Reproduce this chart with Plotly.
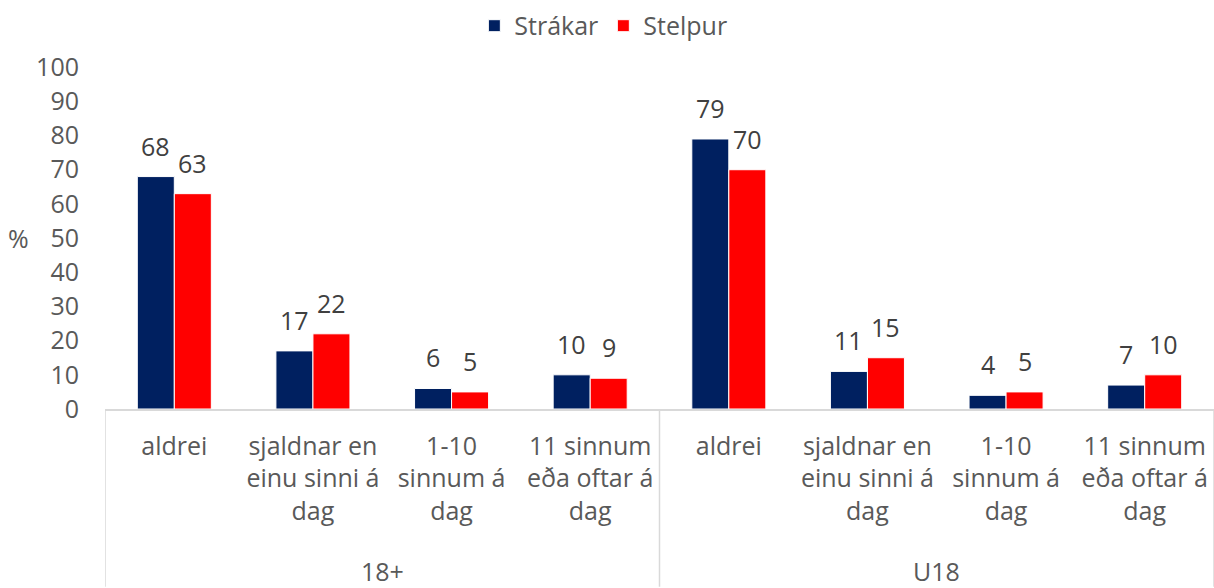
import plotly.graph_objects as go

# Data
groups = ["18+", "U18"]
categories = ["aldrei", "sjaldnar en einu sinni á dag", "1-10 sinnum á dag", "11 sinnum eða oftar á dag"]
tick_labels = ["aldrei", "sjaldnar en<br>einu sinni á<br>dag", "1-10<br>sinnum á<br>dag", "11 sinnum<br>eða oftar á<br>dag"]
strakar = [68, 17, 6, 10, 79, 11, 4, 7]
stelpur = [63, 22, 5, 9, 70, 15, 5, 10]
y_ticks = list(range(0, 101, 10))

n_cat = len(categories)
positions = list(range(len(groups) * n_cat))
ticktext = tick_labels * len(groups)

FONT = "Open Sans"
GREY = "#595959"
LABEL = "#404040"
LINE = "#d9d9d9"
BARGAP = 0.466

fig = go.Figure()
fig.add_trace(go.Bar(
    x=positions, y=strakar, name="Strákar",
    marker=dict(color="#002060", line=dict(color="white", width=1)),
))
fig.add_trace(go.Bar(
    x=positions, y=stelpur, name="Stelpur",
    marker=dict(color="#FF0000", line=dict(color="white", width=1)),
))

# data labels above bars
half = (1 - BARGAP) / 4
for series, off in ((strakar, -half), (stelpur, half)):
    for xp, v in zip(positions, series):
        fig.add_annotation(x=xp + off, xref="x", y=v, yref="y", text=str(v), showarrow=False,
                           yanchor="bottom", yshift=12,
                           font=dict(family=FONT, size=25, color=LABEL))

# group dividers and group labels
for g_i, g in enumerate(groups):
    left = g_i * n_cat - 0.5
    fig.add_shape(type="line", xref="x", yref="paper", x0=left, x1=left, y0=0, y1=-0.52,
                  line=dict(color=LINE, width=1.5), layer="below")
    fig.add_annotation(x=g_i * n_cat + (n_cat - 1) / 2, xref="x", y=-0.475, yref="paper",
                       text=g, showarrow=False, yanchor="middle",
                       font=dict(family=FONT, size=25, color=GREY))
fig.add_shape(type="line", xref="x", yref="paper", x0=len(positions) - 0.5, x1=len(positions) - 0.5,
              y0=0, y1=-0.52, line=dict(color=LINE, width=1.5), layer="below")

fig.add_annotation(x=-0.078, xref="paper", y=0.5, yref="paper", text="%",
                   showarrow=False, font=dict(family=FONT, size=25, color=GREY),
                   xanchor="center", yanchor="middle")

fig.update_layout(
    width=1214, height=588,
    margin=dict(l=105, r=0, t=63, b=179),
    paper_bgcolor="white", plot_bgcolor="white",
    barmode="group", bargap=BARGAP, bargroupgap=0,
    font=dict(family=FONT, size=25, color=GREY),
    legend=dict(orientation="h", xref="container", yref="container", x=0.497, y=0.995,
                xanchor="center", yanchor="top", font=dict(family=FONT, size=25, color=GREY),
                itemwidth=30, tracegroupgap=0),
    showlegend=True,
)

fig.update_xaxes(
    tickmode="array", tickvals=positions, ticktext=ticktext,
    range=[-0.5, len(positions) - 0.5],
    showline=True, linecolor=LINE, linewidth=1.5, ticks="", showgrid=False, zeroline=False,
    tickfont=dict(family=FONT, size=25, color=GREY), ticklabelstandoff=14,
)
fig.update_yaxes(
    range=[0, 100], tickvals=y_ticks, showgrid=False, zeroline=False, showline=False,
    tickfont=dict(family=FONT, size=25, color=GREY), ticks="", ticklabelstandoff=25,
)

fig.write_html("out.html", config={"displayModeBar": False},
               post_script="document.body.style.margin='0';")
